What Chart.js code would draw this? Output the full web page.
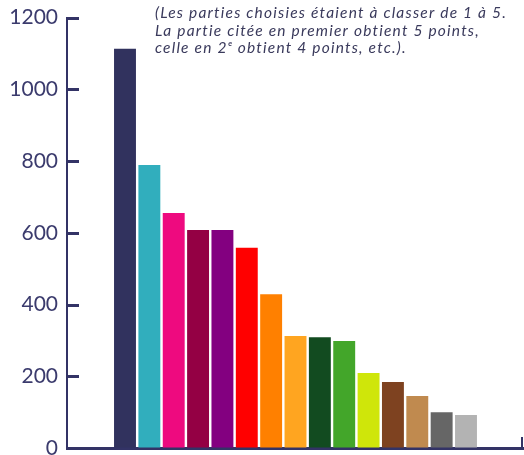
<!DOCTYPE html>
<html>
<head>
<meta charset="utf-8">
<script src="https://cdn.jsdelivr.net/npm/chart.js@4"></script>
<style>
html,body{margin:0;padding:0;background:#fff;}
#wrap{width:524px;height:455px;}
</style>
</head>
<body>
<div id="wrap"><canvas id="c" width="524" height="455"></canvas></div>
<script>
const positions = [1,2,3,4,5,6,7,8,9,10,11,12,13,14,15];
const values = [1113, 789, 655, 608, 608, 558, 429, 312, 309, 298, 209, 184, 145, 100, 92];
const barColors = ['#31325e','#31aebd','#ee0a7f','#940044','#830080','#ff0000','#ff8000','#ffa520','#124b20','#43a62a','#cfe60a','#7e4220','#c08a4f','#666666','#b3b3b3'];
const yTicks = [0, 200, 400, 600, 800, 1000, 1200];
const noteLines = [
  '(Les parties choisies étaient à classer de 1 à 5.',
  'La partie citée en premier obtient 5 points,',
  'celle en 2ᵉ obtient 4 points, etc.).'
];

const NAVY = '#333366';

const decor = {
  id: 'decor',
  afterDraw(chart) {
    const ctx = chart.ctx;
    const ys = chart.scales.y;
    const ca = chart.chartArea;
    ctx.save();
    ctx.fillStyle = NAVY;
    for (const v of yTicks) {
      const py = ys.getPixelForValue(v);
      ctx.fillRect(ca.left, Math.round(py) - 1, 12, 3);
    }
    ctx.fillRect(ca.right - 2, ca.bottom - 11, 2, 11);
    ctx.fillStyle = '#3a3a5c';
    ctx.font = 'italic 15.5px Lato';
    ctx.letterSpacing = '1.2px';
    ctx.textBaseline = 'alphabetic';
    noteLines.forEach((t, i) => ctx.fillText(t, 155, 18 + i * 17.5));
    ctx.restore();
  }
};

new Chart(document.getElementById('c'), {
  type: 'bar',
  data: {
    datasets: [{
      data: positions.map((p, i) => ({x: p, y: values[i]})),
      backgroundColor: barColors,
      borderWidth: 0,
      barPercentage: 0.9,
      categoryPercentage: 1
    }]
  },
  options: {
    responsive: false,
    devicePixelRatio: 1,
    animation: false,
    layout: {padding: {top: 17.6, right: 1, bottom: 0, left: 0}},
    plugins: {legend: {display: false}, tooltip: {enabled: false}},
    scales: {
      x: {
        type: 'linear',
        min: -1.381,
        max: 17.34,
        offset: false,
        grid: {display: false},
        ticks: {display: false},
        border: {display: true, color: NAVY, width: 3},
        afterFit: s => { s.height = 7; s.paddingLeft = 0; s.paddingRight = 0; }
      },
      y: {
        min: 0,
        max: 1200,
        ticks: {stepSize: 200, color: '#3b3b6d', font: {family: 'Lato', size: 21}, padding: 9,
                callback: v => String(v)},
        grid: {drawOnChartArea: false, drawTicks: false},
        border: {display: true, color: NAVY, width: 2},
        afterFit: s => { s.width = 67; s.paddingTop = 0; s.paddingBottom = 0; }
      }
    }
  },
  plugins: [decor]
});
</script>
</body>
</html>
